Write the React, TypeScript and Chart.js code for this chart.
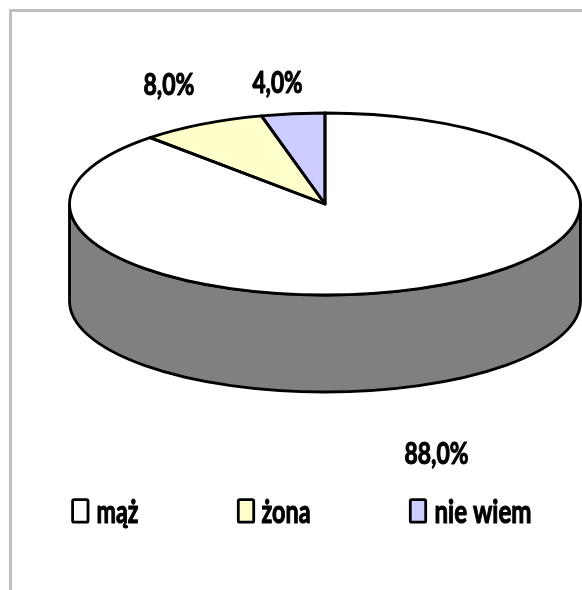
import { useEffect, useRef } from "react";
import { Chart, registerables } from "chart.js";

Chart.register(...registerables);

const categories = ["mąż", "żona", "nie wiem"];
const shares = [88, 8, 4];
const sliceColors = ["#FFFFFF", "#FFFFCC", "#CCCCFF"];

const FONT = "Lato, 'Liberation Sans', sans-serif";
const RADIUS_X = 255.5;
const RADIUS_Y = 91;
const DEPTH = 97;
const STROKE = 2.8;
const valueLabelLayout = [
  { x: 404.5, width: 64, baseline: 464 },
  { x: 143.5, width: 51, baseline: 95 },
  { x: 252.5, width: 50, baseline: 93 },
];
const legendLayout = [
  { boxX: 72.6, textX: 96.5, width: 42 },
  { boxX: 238.3, textX: 261.5, width: 49 },
  { boxX: 410.3, textX: 434.5, width: 97 },
];

function fittedText(ctx: CanvasRenderingContext2D, text: string, x: number, baseline: number, width: number, size: number) {
  ctx.save();
  ctx.font = `bold ${size}px ${FONT}`;
  ctx.fillStyle = "#000";
  ctx.textAlign = "left";
  ctx.textBaseline = "alphabetic";
  const natural = ctx.measureText(text).width;
  ctx.translate(x, baseline);
  ctx.scale(width / natural, 1);
  ctx.fillText(text, 0, 0);
  ctx.strokeStyle = "#000";
  ctx.lineWidth = 1.1;
  ctx.lineJoin = "round";
  ctx.strokeText(text, 0, 0);
  ctx.restore();
}

const pie3d = {
  id: "pie3d",
  beforeDraw(chart: any) {
    const { ctx } = chart;
    ctx.save();
    ctx.fillStyle = "#FFFFFF";
    ctx.fillRect(0, 0, 582, 590);
    ctx.fillStyle = "#C0C0C0";
    ctx.fillRect(9, 9, 573, 3);
    ctx.fillRect(9, 9, 3, 581);
    ctx.restore();
  },
  beforeDatasetsDraw(chart: any) {
    const { ctx } = chart;
    const arc = chart.getDatasetMeta(0).data[0];
    const { x, y, outerRadius } = arc.getProps(["x", "y", "outerRadius"], true);
    ctx.save();
    ctx.beginPath();
    ctx.moveTo(x - outerRadius, y);
    ctx.lineTo(x - outerRadius, y + DEPTH);
    ctx.ellipse(x, y + DEPTH, outerRadius, RADIUS_Y, 0, Math.PI, 0, true);
    ctx.lineTo(x + outerRadius, y);
    ctx.ellipse(x, y, outerRadius, RADIUS_Y, 0, 0, Math.PI, false);
    ctx.closePath();
    ctx.fillStyle = "#808080";
    ctx.fill();
    ctx.strokeStyle = "#000";
    ctx.lineWidth = STROKE;
    ctx.lineJoin = "round";
    ctx.stroke();
    ctx.restore();
    // squash the library's own arcs into the tilted top face
    ctx.save();
    ctx.translate(x, y);
    ctx.scale(1, RADIUS_Y / outerRadius);
    ctx.translate(-x, -y);
  },
  afterDatasetsDraw(chart: any) {
    const { ctx } = chart;
    ctx.restore();
    const arcs = chart.getDatasetMeta(0).data;
    arcs.forEach((arc: any) => {
      const { x, y, startAngle, endAngle, outerRadius } = arc.getProps(
        ["x", "y", "startAngle", "endAngle", "outerRadius"],
        true
      );
      ctx.save();
      ctx.translate(x, y);
      ctx.scale(1, RADIUS_Y / outerRadius);
      ctx.beginPath();
      ctx.moveTo(0, 0);
      ctx.arc(0, 0, outerRadius, startAngle, endAngle);
      ctx.closePath();
      ctx.restore();
      ctx.save();
      ctx.strokeStyle = "#000";
      ctx.lineWidth = STROKE;
      ctx.lineJoin = "round";
      ctx.stroke();
      ctx.restore();
    });
    shares.forEach((v, i) => {
      const l = valueLabelLayout[i];
      fittedText(ctx, `${v.toFixed(1).replace(".", ",")}%`, l.x, l.baseline, l.width, 30);
    });
    categories.forEach((name, i) => {
      const l = legendLayout[i];
      ctx.save();
      ctx.beginPath();
      ctx.roundRect(l.boxX, 499.6, 15.4, 22.6, 1.5);
      ctx.fillStyle = sliceColors[i];
      ctx.fill();
      ctx.strokeStyle = "#000";
      ctx.lineWidth = 2.8;
      ctx.stroke();
      ctx.restore();
      fittedText(ctx, name, l.textX, 523, l.width, 32);
    });
  },
};

export default function App() {
  const ref = useRef<HTMLCanvasElement>(null);
  useEffect(() => {
    const chart = new Chart(ref.current!, {
      type: "pie",
      data: {
        labels: categories,
        datasets: [
          {
            data: shares,
            backgroundColor: sliceColors,
            borderWidth: 0,
            clip: false,
          } as any,
        ],
      },
      options: {
        responsive: false,
        animation: false,
        radius: RADIUS_X,
        rotation: 0,
        layout: { padding: { left: 68, right: 0, top: 0, bottom: 182 } },
        plugins: { legend: { display: false }, tooltip: { enabled: false } },
      } as any,
      plugins: [pie3d],
    });
    return () => chart.destroy();
  }, []);
  return (
    <canvas
      ref={ref}
      width={582}
      height={590}
      style={{ position: "absolute", left: 0, top: 0, width: 582, height: 590, display: "block" }}
    />
  );
}
